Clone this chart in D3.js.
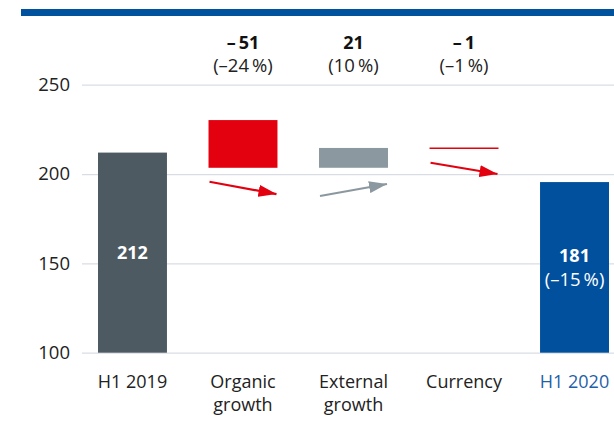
<!DOCTYPE html>
<html><head><meta charset="utf-8">
<script src="https://cdn.jsdelivr.net/npm/d3@7"></script>
<style>
html,body{margin:0;padding:0;background:#fff;}
svg{display:block;font-family:"Open Sans","Noto Sans",sans-serif;}
</style></head>
<body><svg id="c" width="614" height="425"></svg>
<script>
const categories = ["H1 2019", "Organic growth", "External growth", "Currency", "H1 2020"];
const barStart = [100, 203.5, 203.5, 214.4, 100];
const barEnd   = [212, 230.2, 214.6, 214.4, 195.5];
const barKind  = ["total", "neg", "pos", "neg", "final"];
const topValue = ["", "–\u200951", "21", "–\u20091", ""];
const topPct   = ["", "(–24\u2009%)", "(10\u2009%)", "(–1\u2009%)", ""];
const innerValue = ["212", "", "", "", "181"];
const innerPct   = ["", "", "", "", "(–15\u2009%)"];
const arrowFrom = [null, 195.7, 187.7, 206.3, null];
const arrowTo   = [null, 188.8, 194.4, 200.0, null];
const yTicks = [100, 150, 200, 250];

const colors = {total:"#4e5a61", neg:"#e3000f", pos:"#8c989f", final:"#00509e"};
const arrowColors = {neg:"#e3000f", pos:"#8c989f"};

const svg = d3.select("#c");
const x = d3.scaleBand().domain(categories).range([98, 609]).paddingInner(0.376).paddingOuter(0);
const y = d3.scaleLinear().domain([100, 250]).range([352.7, 84.7]);

// top band
svg.append("rect").attr("x", 21).attr("y", 9).attr("width", 593).attr("height", 7).attr("fill", "#00519e");

// grid + y labels
const yAxis = d3.axisLeft(y).tickValues(yTicks).tickSize(-532).tickPadding(12);
const ga = svg.append("g").attr("transform", "translate(82,0)").call(yAxis);
ga.select(".domain").remove();
ga.selectAll(".tick line").attr("stroke", "#d9dde3").attr("stroke-width", 1.3);
ga.selectAll(".tick text").attr("font-size", 18.5).attr("fill", "#222").attr("font-family", "Open Sans");

const data = categories.map((c, i) => ({c, i, s: barStart[i], e: barEnd[i], k: barKind[i]}));

// bars
data.forEach(d => {
  if (d.s === d.e) {
    svg.append("line")
      .attr("x1", x(d.c)).attr("x2", x(d.c) + x.bandwidth())
      .attr("y1", y(d.e)).attr("y2", y(d.e))
      .attr("stroke", colors[d.k]).attr("stroke-width", 1.5);
  } else {
    svg.append("rect")
      .attr("x", x(d.c)).attr("width", x.bandwidth())
      .attr("y", y(Math.max(d.s, d.e))).attr("height", Math.abs(y(d.s) - y(d.e)))
      .attr("fill", colors[d.k]);
  }
});

// arrows
const defs = svg.append("defs");
["neg", "pos"].forEach(k => {
  defs.append("marker").attr("id", "ah-" + k)
    .attr("viewBox", "0 0 18 12").attr("refX", 18).attr("refY", 6)
    .attr("markerUnits", "userSpaceOnUse").attr("markerWidth", 18).attr("markerHeight", 12)
    .attr("orient", "auto")
    .append("path").attr("d", "M0,0 L18,6 L0,12 Z").attr("fill", arrowColors[k]);
});
data.forEach(d => {
  if (arrowFrom[d.i] == null) return;
  svg.append("line")
    .attr("x1", x(d.c) + 1).attr("y1", y(arrowFrom[d.i]))
    .attr("x2", x(d.c) + x.bandwidth() - 1).attr("y2", y(arrowTo[d.i]))
    .attr("stroke", arrowColors[d.k]).attr("stroke-width", 2.2)
    .attr("marker-end", "url(#ah-" + d.k + ")");
});

// top labels
data.forEach(d => {
  const cx = x(d.c) + x.bandwidth() / 2;
  if (topValue[d.i]) {
    svg.append("text").attr("x", cx).attr("y", 49).attr("text-anchor", "middle")
      .attr("font-size", 18).attr("font-weight", "bold").attr("fill", "#111").text(topValue[d.i]);
    svg.append("text").attr("x", cx).attr("y", 72).attr("text-anchor", "middle")
      .attr("font-size", 18.5).attr("fill", "#222").text(topPct[d.i]);
  }
  if (innerValue[d.i]) {
    svg.append("text").attr("x", cx).attr("y", d.k === "final" ? 262 : 259.3).attr("text-anchor", "middle")
      .attr("font-size", 18).attr("font-weight", "bold").attr("fill", "#fff").text(innerValue[d.i]);
  }
  if (innerPct[d.i]) {
    svg.append("text").attr("x", cx).attr("y", 285.5).attr("text-anchor", "middle")
      .attr("font-size", 18.5).attr("fill", "#fff").text(innerPct[d.i]);
  }
});

// x labels
data.forEach(d => {
  const cx = x(d.c) + x.bandwidth() / 2;
  const words = d.c.startsWith("H1") ? [d.c] : d.c.split(" ");
  const t = svg.append("text").attr("text-anchor", "middle").attr("font-size", 18)
    .attr("fill", d.k === "final" ? "#1f5fa8" : "#222");
  words.forEach((w, j) => {
    t.append("tspan").attr("x", cx).attr("y", 387.7 + j * 23).text(w);
  });
});
</script></body></html>
